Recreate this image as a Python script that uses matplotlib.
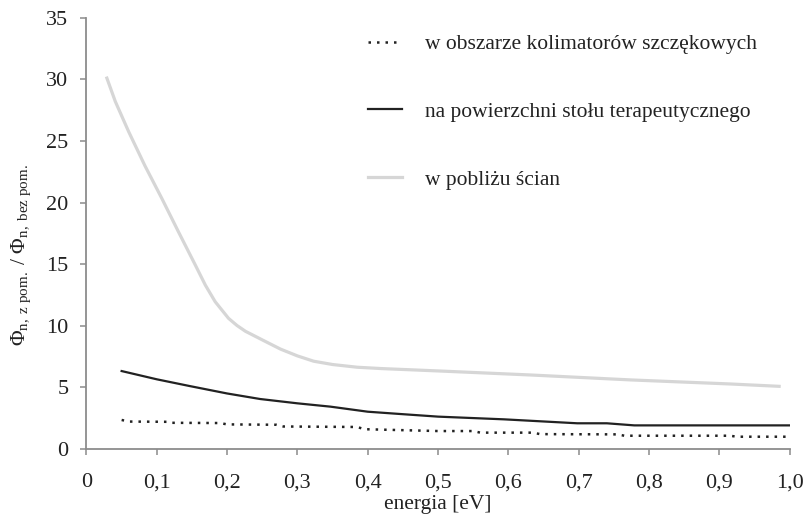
import matplotlib
matplotlib.use("Agg")
import matplotlib.pyplot as plt
from matplotlib.ticker import FixedLocator, FixedFormatter

plt.rcParams["font.family"] = ["Liberation Serif", "DejaVu Serif"]
plt.rcParams["mathtext.fontset"] = "custom"
plt.rcParams["mathtext.rm"] = "Liberation Serif"
plt.rcParams["mathtext.it"] = "Liberation Serif:italic"
plt.rcParams["mathtext.bf"] = "Liberation Serif:bold"

# energia [eV] vs flux ratio, three measurement locations
x_kolimatory = [0.05, 0.06, 0.115, 0.12, 0.19, 0.20, 0.27, 0.28, 0.385, 0.395,
                0.50, 0.55, 0.56, 0.635, 0.645, 0.755, 0.765, 0.915, 0.925, 1.00]
y_kolimatory = [2.35, 2.22, 2.20, 2.12, 2.10, 1.99, 1.96, 1.82, 1.78, 1.60,
                1.45, 1.45, 1.32, 1.32, 1.20, 1.18, 1.07, 1.07, 0.99, 0.99]

x_stol = [0.05, 0.10, 0.147, 0.20, 0.247, 0.30, 0.347, 0.40, 0.447, 0.50,
          0.594, 0.698, 0.74, 0.779, 1.00]
y_stol = [6.32, 5.65, 5.10, 4.50, 4.05, 3.70, 3.43, 3.02, 2.83, 2.62,
          2.40, 2.08, 2.08, 1.91, 1.91]

x_sciany = [0.029, 0.041, 0.060, 0.083, 0.107, 0.131, 0.155, 0.169, 0.183, 0.202,
            0.214, 0.226, 0.250, 0.276, 0.300, 0.323, 0.350, 0.385, 0.420, 0.504,
            0.632, 0.774, 0.916, 0.985]
y_sciany = [30.1, 28.2, 25.75, 23.0, 20.35, 17.6, 14.9, 13.3, 11.95, 10.6,
            10.02, 9.55, 8.85, 8.1, 7.55, 7.12, 6.85, 6.63, 6.52, 6.32,
            6.0, 5.6, 5.27, 5.08]

labels = ["w obszarze kolimatorów szczękowych",
          "na powierzchni stołu terapeutycznego",
          "w pobliżu ścian"]

x_ticks = [0, 0.1, 0.2, 0.3, 0.4, 0.5, 0.6, 0.7, 0.8, 0.9, 1.0]
x_tick_labels = ["0", "0,1", "0,2", "0,3", "0,4", "0,5", "0,6", "0,7", "0,8", "0,9", "1,0"]
y_ticks = [0, 5, 10, 15, 20, 25, 30, 35]

W, H = 812, 517
fig = plt.figure(figsize=(W / 100, H / 100), dpi=100)
ax = fig.add_axes([0.1065, 0.1317, 0.866, 0.834])

ax.plot(x_kolimatory, y_kolimatory, color="#222222", lw=1.8,
        linestyle=(0, (1, 2.4)), label=labels[0])
ax.plot(x_stol, y_stol, color="#222222", lw=1.6, label=labels[1])
ax.plot(x_sciany, y_sciany, color="#d6d6d6", lw=2.3, label=labels[2],
        solid_joinstyle="round")

ax.set_xlim(0, 1.0)
ax.set_ylim(0, 35)
ax.xaxis.set_major_locator(FixedLocator(x_ticks))
ax.xaxis.set_major_formatter(FixedFormatter(x_tick_labels))
ax.set_yticks(y_ticks)

for side in ("top", "right"):
    ax.spines[side].set_visible(False)
for side in ("left", "bottom"):
    ax.spines[side].set_color("#8c8c8c")
    ax.spines[side].set_linewidth(1.3)
ax.tick_params(axis="both", direction="out", length=4.5, width=1.1,
               color="#8c8c8c", labelsize=16, labelcolor="#222222")
ax.tick_params(axis="x", pad=13)
ax.tick_params(axis="y", pad=8.5)

ax.set_xlabel("energia [eV]", fontsize=15.5, color="#222222")
ax.xaxis.set_label_coords(438 / W, 1 - 504 / H, transform=fig.transFigure)
ax.xaxis.label.set_va("center")

ax.set_ylabel(r"$\Phi_{\mathrm{n,\ z\ pom.}}\ /\ \Phi_{\mathrm{n,\ bez\ pom.}}$",
              fontsize=15.5, color="#222222")
ax.yaxis.set_label_coords(21 / W, 1 - 255 / H, transform=fig.transFigure)
ax.yaxis.label.set_va("center")

leg = ax.legend(loc="upper left", bbox_to_anchor=(368 / W, 1 - 34 / H),
                bbox_transform=fig.transFigure, frameon=False, fontsize=15.5,
                borderpad=0, borderaxespad=0,
                handlelength=1.58, handletextpad=1.07, labelspacing=2.22)
for t in leg.get_texts():
    t.set_color("#222222")

fig.savefig("out.png", dpi=100)
